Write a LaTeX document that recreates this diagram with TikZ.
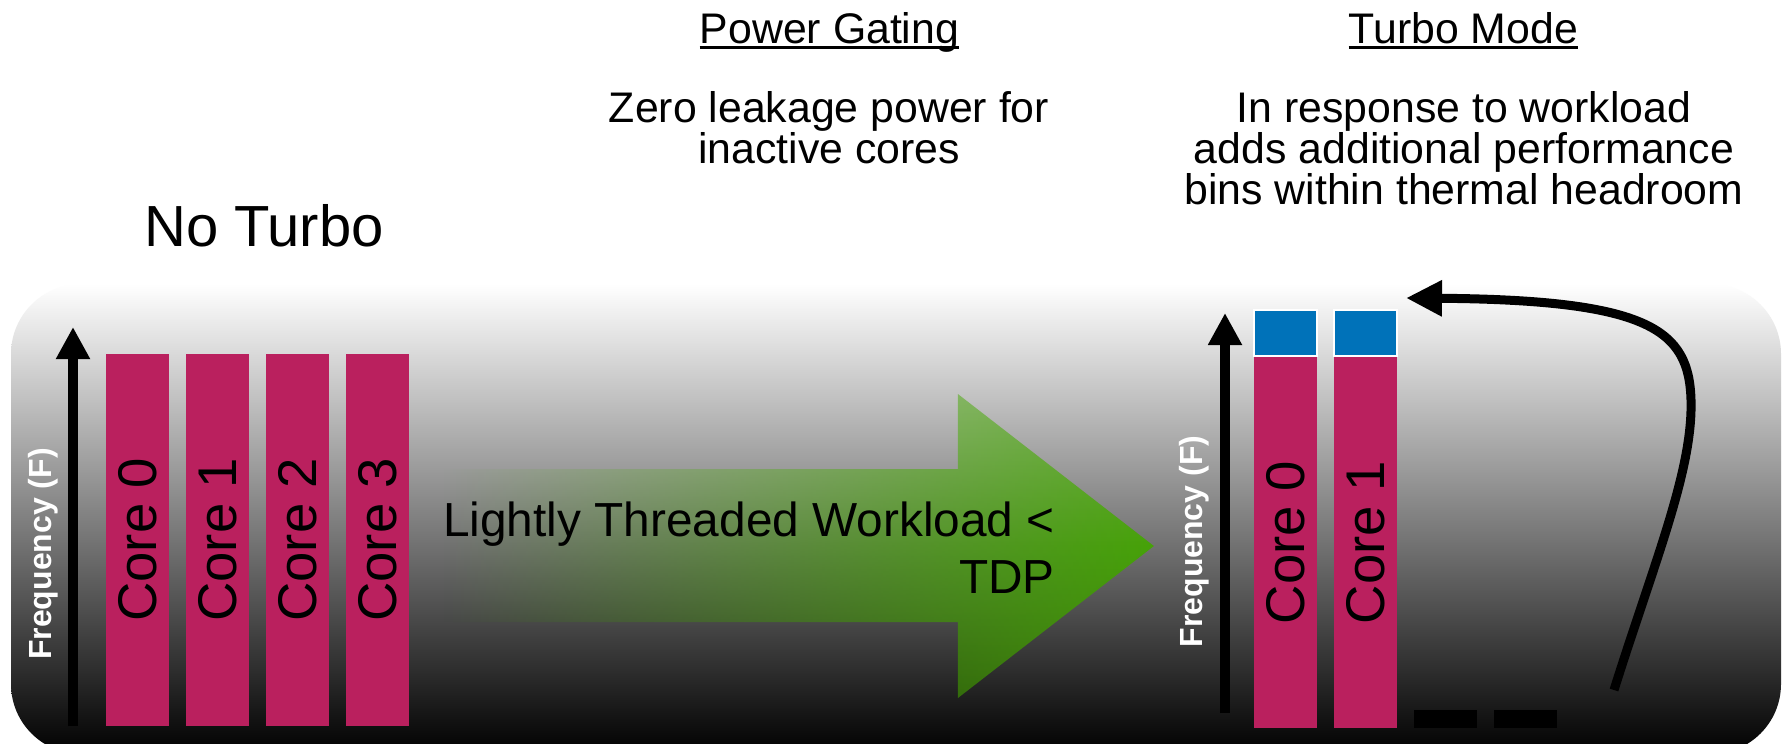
\documentclass[tikz,border=0pt]{standalone}
\usepackage{fontspec}
\setmainfont{Liberation Sans}
\usetikzlibrary{arrows.meta,fadings}
\definecolor{coremag}{RGB}{186,32,94}
\definecolor{turboblue}{RGB}{0,114,185}
\definecolor{gtop}{RGB}{108,176,62}
\definecolor{gmid}{RGB}{70,162,8}
\definecolor{gbot}{RGB}{60,138,4}
\tikzfading[name=greenfade, left color=transparent!100, middle color=transparent!25, right color=transparent!0]
\tikzset{
  corebox/.style={fill=coremag, draw=none, inner sep=0pt, minimum width=63pt},
  binbox/.style={fill=turboblue, draw=white, line width=1.2pt, inner sep=0pt, minimum width=63pt, minimum height=46pt},
  offbar/.style={fill=black, draw=none, inner sep=0pt, minimum width=63pt, minimum height=18pt},
  corelabel/.style={rotate=90, font=\fontsize{54.5pt}{60pt}\selectfont, inner sep=0pt},
  freqlabel/.style={rotate=90, text=white, font=\bfseries\fontsize{32pt}{36pt}\selectfont, inner sep=0pt},
  axisarrow/.style={line width=10pt, -{Triangle[length=32pt,width=32pt]}},
  headtext/.style={font=\fontsize{42.8pt}{37pt}\selectfont, inner sep=0pt, align=center},
  uline/.style={line width=2.8pt},
}
\begin{document}
\begin{tikzpicture}[x=1pt,y=-1pt]
\useasboundingbox (0,0) rectangle (1783,744);
\clip (0,0) rectangle (1783,744);
\fill[white] (0,0) rectangle (1783,744);
% background panel
\shade[top color=white, bottom color=black, rounded corners=70pt] (11,284) rectangle (1781,754);

% titles
\node[headtext, anchor=base] (pg) at (829.5,43) {Power Gating};
\draw[uline] ([yshift=-4.5pt]pg.base west) -- ([yshift=-4.5pt]pg.base east);
\node[headtext, anchor=base] (tm) at (1463.5,43) {Turbo Mode};
\draw[uline] ([yshift=-4.5pt]tm.base west) -- ([yshift=-4.5pt]tm.base east);
\node[headtext, anchor=north] (pgtext) at (829,91.4) {Zero leakage power for\\inactive cores};
\node[headtext, anchor=north] (tmtext) at (1464,91.4) {In response to workload\\adds additional performance\\bins within thermal headroom};
\node[font=\fontsize{58pt}{60pt}\selectfont, inner sep=0pt, anchor=base] (nt) at (264,246) {No Turbo};

% left: four cores
\coordinate (la0) at (73,726);
\coordinate (la1) at (73,327);
\draw[axisarrow] (la0) -- (la1);
\node[freqlabel] (lf) at (43,554) {Frequency (F)};
\foreach \i/\x in {0/137.5,1/217.5,2/297.5,3/377.5}{
  \node[corebox, minimum height=372pt] (lc\i) at (\x,540) {};
  \node[corelabel] (lct\i) at (lc\i) {Core \i};
}

% green arrow
\shade[top color=gtop, bottom color=gbot, middle color=gmid, path fading=greenfade]
  (444,469) -- (958,469) -- (958,394) -- (1154,546) -- (958,698) -- (958,622) -- (444,622) -- cycle;
\node[font=\fontsize{47.8pt}{57pt}\selectfont, inner sep=0pt, align=right, anchor=north east] (ltw) at (1055,501.8) {Lightly Threaded Workload <\\TDP};

% right: turbo
\coordinate (ra0) at (1225,713);
\coordinate (ra1) at (1225,313);
\draw[axisarrow] (ra0) -- (ra1);
\node[freqlabel] (rf) at (1194,541.5) {Frequency (F)};
\foreach \i/\x in {0/1285.5,1/1365.5}{
  \node[corebox, minimum height=371pt] (rc\i) at (\x,542.5) {};
  \node[binbox] (rb\i) at (\x,333) {};
  \node[corelabel] (rct\i) at (rc\i) {Core \i};
}
\node[offbar] (off2) at (1445.5,719) {};
\node[offbar] (off3) at (1525.5,719) {};

% curved turbo arrow
\coordinate (cs) at (1614,690);
\coordinate (ct) at (1406,298);
\draw[line width=9pt, -{Triangle[length=36pt,width=34pt]}]
  (cs) .. controls (1655,560) and (1693,470) .. (1691,400)
       .. controls (1689,330) and (1650,300) .. (ct);
\end{tikzpicture}
\end{document}
